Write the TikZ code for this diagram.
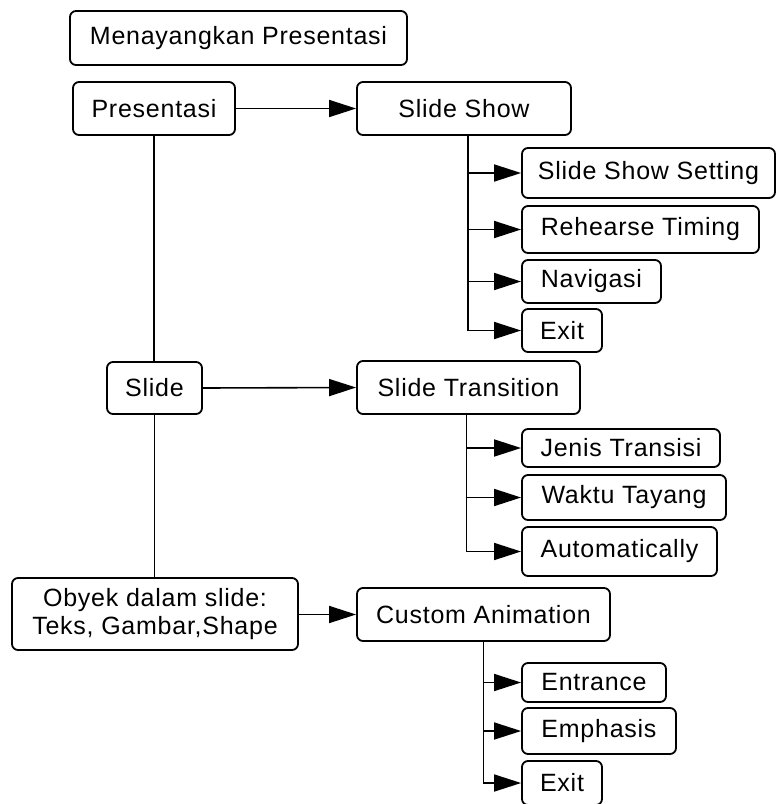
\documentclass[tikz,border=0pt]{standalone}
\usepackage{fontspec}
\setmainfont{Liberation Sans}[LetterSpace=3]
\usepackage{tikz}
\usetikzlibrary{arrows.meta}

\tikzset{
    kotak/.style={draw, line width=1.8pt, rounded corners=6pt, inner sep=0pt,
        font=\fontsize{25}{28}\selectfont, align=center},
    garis/.style={line width=1.6pt},
    panah/.style={garis, -{Triangle[length=27pt, width=17pt]}}
}

\begin{document}
\begin{tikzpicture}[x=1pt, y=-1pt]
    \useasboundingbox (0,0) rectangle (776,804);

    % Judul
    \node[kotak, minimum width=337pt, minimum height=54pt] (judul) at (238.5,38) {Menayangkan Presentasi};

    % Kolom kiri
    \node[kotak, minimum width=162pt, minimum height=53pt] (pres) at (154,108.5) {Presentasi};
    \node[kotak, minimum width=95pt, minimum height=52pt] (slide) at (154.5,388) {Slide};
    \node[kotak, minimum width=286pt, minimum height=72pt] (obyek) at (155,614) {Obyek dalam slide:\\Teks, Gambar,Shape};

    % Menu utama
    \node[kotak, minimum width=214pt, minimum height=53pt] (show) at (464,108.5) {Slide Show};
    \node[kotak, minimum width=223pt, minimum height=53pt] (trans) at (468.5,387.5) {Slide Transition};
    \node[kotak, minimum width=253pt, minimum height=53pt] (anim) at (483.5,614.5) {Custom Animation};

    % Sub menu Slide Show
    \node[kotak, minimum width=253pt, minimum height=50pt] (setting) at (648.5,173) {Slide Show Setting};
    \node[kotak, minimum width=237pt, minimum height=47pt] (timing) at (640.5,229.5) {Rehearse Timing};
    \node[kotak, minimum width=139pt, minimum height=43pt] (navigasi) at (591.5,281.5) {Navigasi};
    \node[kotak, minimum width=80pt, minimum height=43pt] (exitshow) at (562,330.5) {Exit};

    % Sub menu Slide Transition
    \node[kotak, minimum width=198pt, minimum height=38pt] (jenis) at (621,448) {Jenis Transisi};
    \node[kotak, minimum width=204pt, minimum height=45pt] (waktu) at (624,497.5) {Waktu Tayang};
    \node[kotak, minimum width=195pt, minimum height=49pt] (otomatis) at (619.5,551.5) {Automatically};

    % Sub menu Custom Animation
    \node[kotak, minimum width=144pt, minimum height=39pt] (entrance) at (594,682.5) {Entrance};
    \node[kotak, minimum width=154pt, minimum height=46pt] (emphasis) at (599,731) {Emphasis};
    \node[kotak, minimum width=80pt, minimum height=44pt] (exitanim) at (562,783) {Exit};

    % Garis batang kiri
    \draw[garis] (pres.south) -- (pres.south |- slide.north);
    \draw[garis] (slide.south) -- (slide.south |- obyek.north);

    % Panah mendatar
    \draw[panah] (pres.east) -- (show.west);
    \draw[panah] (slide.east) -- (trans.west);
    \draw[panah] (obyek.east |- anim.west) -- (anim.west);

    % Cabang sub menu
    \foreach \c in {setting,timing,navigasi,exitshow} {
        \draw[panah] ([xshift=4pt]show.south) |- (\c.west);
    }
    \foreach \c in {jenis,waktu,otomatis} {
        \draw[panah] ([xshift=-2pt]trans.south) |- (\c.west);
    }
    \foreach \c in {entrance,emphasis,exitanim} {
        \draw[panah] (anim.south) |- (\c.west);
    }
\end{tikzpicture}
\end{document}
